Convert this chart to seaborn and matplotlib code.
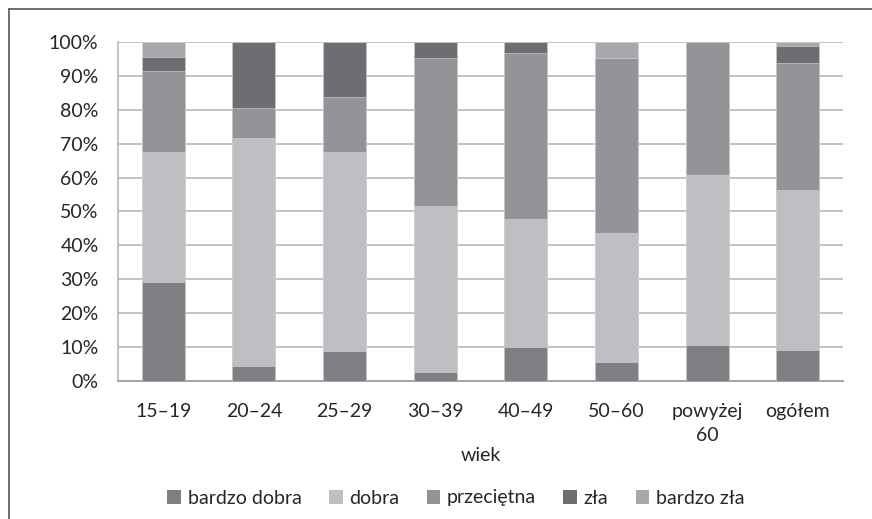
import numpy as np
import pandas as pd
import seaborn as sns
import matplotlib.pyplot as plt
from matplotlib.patches import Patch
from matplotlib.lines import Line2D

# Data (percent shares)
groups = ['15–19', '20–24', '25–29', '30–39', '40–49', '50–60', 'powyżej\n60', 'ogółem']
bardzo_dobra = [29.0, 4.4, 8.6, 2.4, 9.9, 5.6, 10.6, 9.1]
dobra = [38.7, 67.2, 59.1, 49.3, 37.9, 38.1, 50.1, 47.3]
przecietna = [23.7, 9.0, 16.1, 43.7, 49.1, 51.7, 39.3, 37.5]
zla = [4.2, 19.4, 16.2, 4.6, 3.1, 0.0, 0.0, 5.1]
bardzo_zla = [4.4, 0.0, 0.0, 0.0, 0.0, 4.6, 0.0, 1.0]

series = ['bardzo dobra', 'dobra', 'przeciętna', 'zła', 'bardzo zła']
colors = ['#7e7f83', '#bebfc2', '#939498', '#6d6e72', '#a7a8ab']

df = pd.DataFrame({'wiek': groups, 'bardzo dobra': bardzo_dobra, 'dobra': dobra,
                   'przeciętna': przecietna, 'zła': zla, 'bardzo zła': bardzo_zla})
cum = df[series].cumsum(axis=1)
# normalise to 100%
cum = cum.div(cum[series[-1]], axis=0) * 100
cum['wiek'] = df['wiek']

sns.set_style('white')
plt.rcParams['font.family'] = ['Lato', 'DejaVu Sans']
text_color = '#262626'
fs = 14

fig = plt.figure(figsize=(8.72, 5.19), dpi=100)
ax = fig.add_axes([118 / 872, 1 - 380.5 / 519, 725 / 872, 338.2 / 519])

# draw cumulative layers from top to bottom so each lower share overlays
for name, col in reversed(list(zip(series, colors))):
    sns.barplot(data=cum, x='wiek', y=name, color=col, width=0.475,
                saturation=1, ax=ax, edgecolor='#d8d8da', linewidth=0.4, zorder=3)

ax.set_ylim(0, 100)
ax.set_xlim(-0.5, len(groups) - 0.5)
ax.set_yticks(np.arange(0, 101, 10))
ax.set_yticklabels([f'{v}%' for v in range(0, 101, 10)])
ax.yaxis.grid(True, color='#b3b3b3', linewidth=1.1, zorder=0)
ax.set_axisbelow(True)
for s in ['top', 'right']:
    ax.spines[s].set_visible(False)
ax.spines['left'].set_color('#b3b3b3')
ax.spines['left'].set_linewidth(1.1)
ax.spines['bottom'].set_color('#a6a6a6')
ax.spines['bottom'].set_linewidth(1.5)
ax.tick_params(axis='both', length=0, labelsize=fs, colors=text_color)
ax.tick_params(axis='y', pad=14)
ax.tick_params(axis='x', pad=16)
for lbl in ax.get_xticklabels():
    lbl.set_linespacing(1.55)
ax.set_ylabel('')
ax.set_xlabel('wiek', fontsize=fs, color=text_color, labelpad=2)

handles = [Patch(facecolor=c, edgecolor='none', label=s) for s, c in zip(series, colors)]
fig.legend(handles=handles, loc='center', bbox_to_anchor=(456 / 872, 1 - 498 / 519),
           ncol=5, frameon=False, fontsize=fs, handlelength=0.7, handleheight=0.7,
           handletextpad=0.35, columnspacing=1.4, labelcolor=text_color)

# outer chart frame (left and top edges)
fig.add_artist(Line2D([8.5 / 872, 8.5 / 872], [0, 1 - 9 / 519], color='#555555',
                      linewidth=1.2, transform=fig.transFigure))
fig.add_artist(Line2D([8.5 / 872, 1], [1 - 9 / 519, 1 - 9 / 519], color='#555555',
                      linewidth=1.2, transform=fig.transFigure))

fig.savefig('out.png', dpi=100)
